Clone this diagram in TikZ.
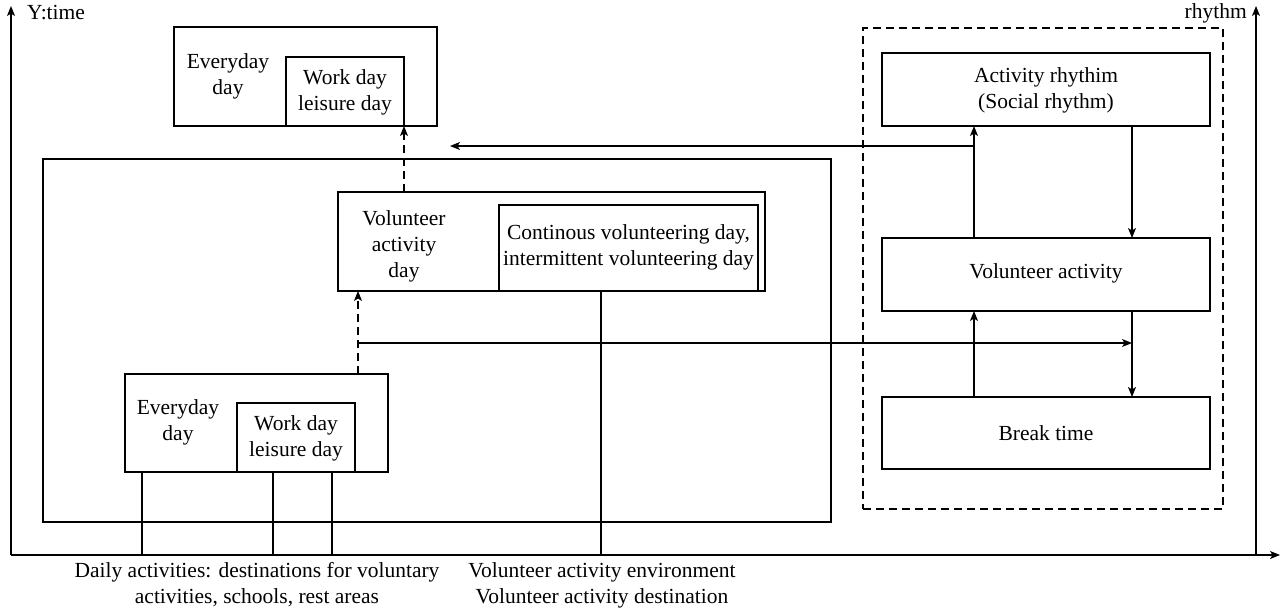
\documentclass[tikz,border=0pt]{standalone}
\usepackage{fontspec}
\setmainfont{Liberation Serif}
\newfontfamily\diagserif{Liberation Serif}
\usetikzlibrary{arrows.meta,calc}
\begin{document}
\begin{tikzpicture}[x=1pt,y=-1pt,
  box/.style={draw, line width=1.2pt, inner sep=0pt, outer sep=0pt},
  lbl/.style={font=\diagserif\fontsize{21.5}{26}\selectfont, align=center, inner sep=0pt},
  conn/.style={line width=1.1pt},
  arr/.style={line width=1.1pt, -{Stealth[length=10pt,width=8pt,inset=2.5pt]}},
  dsh/.style={dash pattern=on 8pt off 5pt}]
\useasboundingbox (0,0) rectangle (1284,614);

% axes
\coordinate (O) at (11,555);
\coordinate (ytip) at (11,6);
\coordinate (xtip) at (1280,555);
\coordinate (rbase) at (1256,555);
\coordinate (rtip) at (1256,6);
\draw[arr] (O) -- (ytip);
\draw[arr] (O) -- (xtip);
\draw[arr] (rbase) -- (rtip);
\node[lbl, anchor=west] (ylab) at (27,13) {Y:time};
\node[lbl, anchor=east] (rlab) at (1247,13) {rhythm};

% top everyday box
\node[box, minimum width=263pt, minimum height=99pt] (topEv) at (305.5,76.5) {};
\node[box, minimum width=118pt, minimum height=69pt] (topWork) at (345,91.5) {};
\node[lbl] (topEvT) at (228,76) {Everyday\\day};
\node[lbl] (topWorkT) at (345,92) {Work day\\leisure day};

% outer box
\node[box, minimum width=788pt, minimum height=363pt] (outer) at (437,340.5) {};

% volunteer box
\node[box, minimum width=427pt, minimum height=99pt] (vol) at (551.5,241.5) {};
\node[box, minimum width=259pt, minimum height=86pt] (cont) at (628.5,248) {};
\node[lbl] (volT) at (404,246) {Volunteer\\activity\\day};
\node[lbl] (contT) at (628.5,247) {Continous volunteering day,\\intermittent volunteering day};

% lower everyday box
\node[box, minimum width=263pt, minimum height=98pt] (lowEv) at (256.5,423) {};
\node[box, minimum width=118pt, minimum height=69pt] (lowWork) at (296,437.5) {};
\node[lbl] (lowEvT) at (178,422) {Everyday\\day};
\node[lbl] (lowWorkT) at (296,438) {Work day\\leisure day};

% rhythm area
\node[box, dsh, minimum width=360pt, minimum height=481pt] (rhy) at (1043,268.5) {};
\node[box, minimum width=328pt, minimum height=73pt] (ar) at (1046,89.5) {};
\node[box, minimum width=328pt, minimum height=73pt] (va) at (1046,274.5) {};
\node[box, minimum width=328pt, minimum height=72pt] (bt) at (1046,433) {};
\node[lbl] (arT) at (1046,90) {Activity rhythim\\(Social rhythm)};
\node[lbl] (vaT) at (1046,273) {Volunteer activity};
\node[lbl] (btT) at (1046,433) {Break time};

% bottom labels
\node[lbl] (dailyT) at (257,585) {Daily activities: destinations for voluntary\\activities, schools, rest areas};
\node[lbl] (envT) at (602,585) {Volunteer activity environment\\Volunteer activity destination};

% x positions
\coordinate (xa) at (358,0);
\coordinate (xb) at (404,0);
\coordinate (xc) at (974,0);
\coordinate (xd) at (1132,0);
\coordinate (xe) at (601,0);
\coordinate (xf) at (142,0);
\coordinate (xg) at (273,0);
\coordinate (xh) at (332,0);
\coordinate (h1) at (0,146);
\coordinate (h2) at (0,343);
\coordinate (tipL) at (450,146);

% dashed arrows
\draw[arr, dsh] (lowEv.north -| xa) -- (vol.south -| xa);
\draw[arr, dsh] (vol.north -| xb) -- (topWork.south -| xb);

% rhythm arrows
\draw[arr] (va.north -| xc) -- (ar.south -| xc);
\draw[arr] (ar.south -| xd) -- (va.north -| xd);
\draw[arr] (bt.north -| xc) -- (va.south -| xc);
\draw[arr] (va.south -| xd) -- (bt.north -| xd);
\draw[arr] (xc |- h1) -- (tipL);
\draw[arr] (xa |- h2) -- (xd |- h2);

% lines to axis
\draw[conn] (cont.south -| xe) -- (O -| xe);
\draw[conn] (lowEv.south -| xf) -- (O -| xf);
\draw[conn] (lowWork.south -| xg) -- (O -| xg);
\draw[conn] (lowWork.south -| xh) -- (O -| xh);
\end{tikzpicture}
\end{document}
